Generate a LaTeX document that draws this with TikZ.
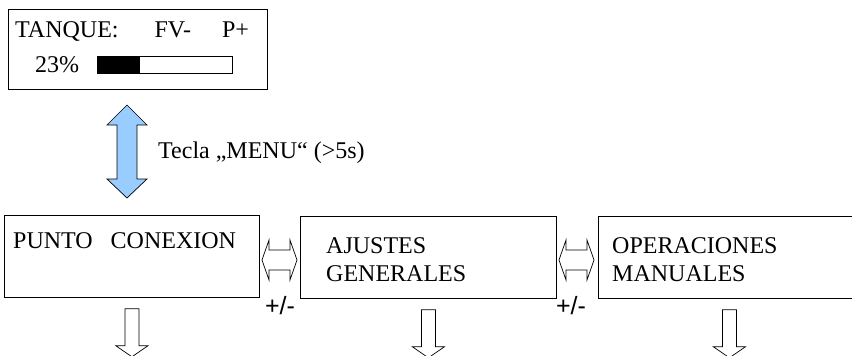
\documentclass[tikz,border=0pt]{standalone}
\usepackage{fontspec}
\setmainfont{Liberation Serif}
\newfontfamily\boxfont{Liberation Serif}
\newfontfamily\signfont{Liberation Sans}
\usetikzlibrary{positioning}
\definecolor{keyblue}{HTML}{99CCFF}
\tikzset{
  box/.style={draw, line width=0.8pt, rectangle, inner sep=0pt, anchor=north west},
  txt/.style={inner sep=0pt, anchor=base west},
  hollow/.style={draw, line width=0.7pt, fill=white},
  every node/.append style={font=\boxfont\fontsize{24}{28}\selectfont},
}

\begin{document}
\begin{tikzpicture}[x=1pt, y=-1pt]
  \useasboundingbox (0,0) rectangle (852,356);

  % display
  \node[box, minimum width=259, minimum height=80] (lcd) at (8,9) {};
  \node[txt] (row1) at (15,37) {TANQUE:\hspace{36pt}FV-\hspace{31pt}P+};
  \node[txt] (pct) at (35,72) {23\%};
  \draw[line width=0.8pt] (97,56) rectangle (232,73);
  \fill (97,56) rectangle (140,73);

  % menu key
  \draw[fill=keyblue, line width=0.7pt] (127,105) -- (147,125) -- (137,125)
    -- (137,179) -- (147,179) -- (127,198) -- (107,179) -- (117,179)
    -- (117,125) -- (107,125) -- cycle;
  \node[txt] (key) at (158,158) {Tecla „MENU“ (>5s)};

  % menu entries
  \node[box, minimum width=255, minimum height=82] (punto) at (4,215) {};
  \node[box, minimum width=256, minimum height=82] (ajustes) at (300,216) {};
  \node[box, minimum width=262, minimum height=82] (manual) at (598,216) {};

  \node[txt] (puntotxt) at (13,248) {PUNTO\ \ \ CONEXION};
  \node[inner sep=0pt, anchor=north west, align=left] (ajustestxt) at (326,237)
    {AJUSTES\\GENERALES};
  \node[inner sep=0pt, anchor=north west, align=left] (manualtxt) at (612,237)
    {OPERACIONES\\MANUALES};

  % +/- keys
  \foreach \xa in {262,559} {
    \begin{scope}[shift={(\xa,260)}]
      \draw[hollow] (0,0) -- (7,-20) -- (7,-10) -- (28,-10) -- (28,-20)
        -- (35,0) -- (28,20) -- (28,10) -- (7,10) -- (7,20) -- cycle;
    \end{scope}
  }
  \node[inner sep=0pt, font=\signfont\fontsize{25}{27}\selectfont] (pm1) at (280,306) {+/-};
  \node[inner sep=0pt, font=\signfont\fontsize{25}{27}\selectfont] (pm2) at (571,306) {+/-};

  % enter
  \foreach \b in {punto,ajustes,manual} {
    \begin{scope}[shift={(\b.south)}]
      \draw[hollow] (-7,11) -- (7,11) -- (7,48) -- (16,48) -- (0,59)
        -- (-16,48) -- (-7,48) -- cycle;
    \end{scope}
  }
\end{tikzpicture}
\end{document}
